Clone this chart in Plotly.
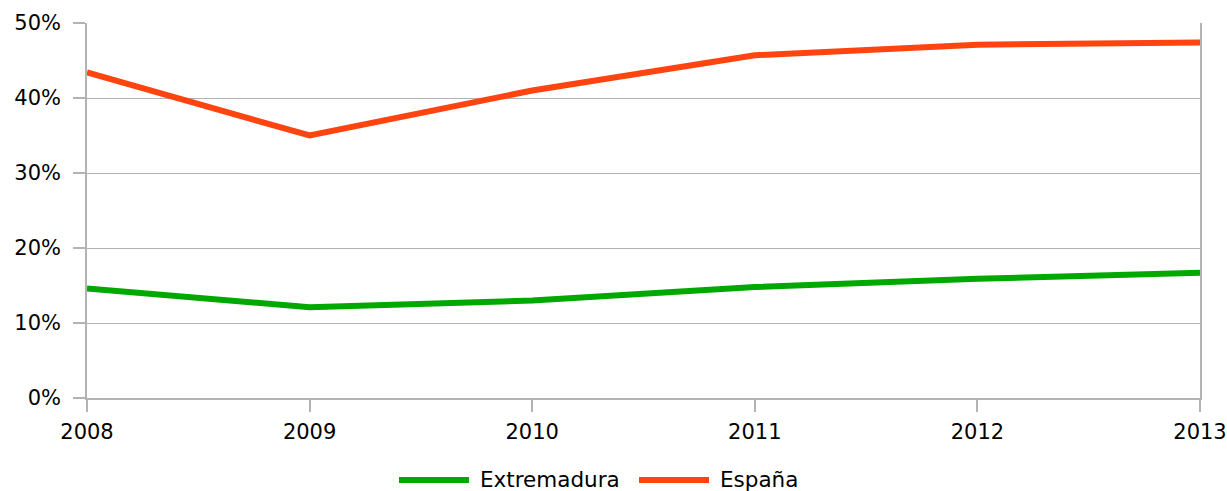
import plotly.graph_objects as go

years = ["2008", "2009", "2010", "2011", "2012", "2013"]
extremadura = [0.146, 0.121, 0.130, 0.148, 0.159, 0.167]
espana = [0.434, 0.350, 0.410, 0.457, 0.471, 0.474]
y_ticks = [0, 0.1, 0.2, 0.3, 0.4, 0.5]
series = [("Extremadura", extremadura, "#00a800"), ("España", espana, "#ff4410")]

W, H = 1227, 491
L, R, T, B = 87, 27, 23, 93
pw, ph = W - L - R, H - T - B

def px_to_paper_x(p):
    return (p - L) / pw

def px_to_paper_y(p):
    return (H - B - p) / ph

fig = go.Figure()
for name, vals, color in series:
    fig.add_trace(go.Scatter(x=years, y=vals, name=name, mode="lines",
                             line=dict(color=color, width=6), showlegend=False))

# custom legend with long line symbols
legend_y = px_to_paper_y(480)
starts = [399, 639]
for (name, vals, color), sx in zip(series, starts):
    fig.add_shape(type="line", xref="paper", yref="paper",
                  x0=px_to_paper_x(sx), x1=px_to_paper_x(sx + 70),
                  y0=legend_y, y1=legend_y,
                  line=dict(color=color, width=6))
    fig.add_annotation(xref="paper", yref="paper", x=px_to_paper_x(sx + 79), y=legend_y,
                       text=name, showarrow=False, xanchor="left", yanchor="middle",
                       font=dict(size=21.5, color="#000000"))

fig.update_layout(
    width=W, height=H,
    margin=dict(l=L, r=R, t=T, b=B, autoexpand=False),
    paper_bgcolor="white", plot_bgcolor="white",
    font=dict(family="DejaVu Sans, sans-serif", size=21, color="#000000"),
    showlegend=False,
)
fig.update_xaxes(
    type="category", range=[0, 5], showgrid=False, automargin=False,
    showline=True, linecolor="#b3b3b3", linewidth=1.5,
    ticks="outside", ticklen=12, tickcolor="#b3b3b3", tickwidth=1.5,
    tickfont=dict(size=21), zeroline=False, ticklabelstandoff=2,
)
fig.update_yaxes(
    range=[0, 0.5], tickvals=y_ticks, tickformat=".0%", automargin=False,
    showgrid=True, gridcolor="#b3b3b3", gridwidth=1,
    showline=True, linecolor="#b3b3b3", linewidth=1.5, mirror=True,
    ticks="outside", ticklen=12, tickcolor="#b3b3b3", tickwidth=1.5,
    tickfont=dict(size=21), zeroline=False, ticklabelstandoff=8,
)

fig.write_html("out.html", config={"displayModeBar": False},
               post_script="document.body.style.margin='0';document.body.style.overflow='hidden';")
